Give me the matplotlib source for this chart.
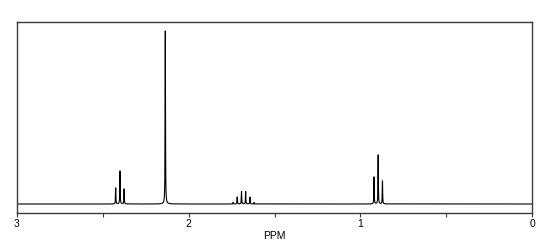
"""1H NMR spectrum figure (300 MHz style stick/lorentzian trace)."""

from __future__ import annotations

import numpy as np
import matplotlib

matplotlib.use("Agg")
import matplotlib.pyplot as plt


# peak list: shift (ppm) and height (arbitrary units)
PEAK_PPM = [
    2.425, 2.400, 2.376,                          # CH2 triplet
    2.136,                                        # CH3 singlet
    1.741, 1.717, 1.692, 1.668, 1.643, 1.619,     # CH2 sextet
    0.920, 0.896, 0.871,                          # CH3 triplet
]
PEAK_HEIGHT = [
    16, 33, 15,
    173,
    1.5, 7, 12.5, 12.5, 7, 1.5,
    27, 49, 23,
]
MAJOR_TICKS = [3, 2, 1, 0]
MINOR_TICKS = [2.5, 1.5, 0.5]
X_LABEL = "PPM"

FRAME = "#3a3a3a"
INK = "#000000"
FONT = ["Liberation Sans", "DejaVu Sans"]


def spectrum(ppm: np.ndarray, hwhm: float = 0.0012) -> np.ndarray:
    y = np.zeros_like(ppm)
    for x0, h in zip(PEAK_PPM, PEAK_HEIGHT):
        y += h * hwhm**2 / ((ppm - x0) ** 2 + hwhm**2)
    return y


def main() -> None:
    plt.rcParams["font.family"] = FONT
    fig = plt.figure(figsize=(5.6, 2.46), dpi=100)
    ax = fig.add_axes([17 / 560, 1 - 213 / 246, 515 / 560, 191 / 246])

    ppm = np.linspace(0, 3, 60001)
    ax.plot(ppm, spectrum(ppm), color=INK, linewidth=0.8)

    ax.set_xlim(3, 0)
    ax.set_ylim(-9, 182)
    ax.set_yticks([])
    ax.set_xticks(MAJOR_TICKS, [str(t) for t in MAJOR_TICKS])
    ax.set_xticks(MINOR_TICKS, minor=True)
    ax.tick_params(axis="x", which="both", direction="out", length=3,
                   width=0.8, color=FRAME, labelsize=7.5, pad=1)
    for sp in ax.spines.values():
        sp.set_color(FRAME)
        sp.set_linewidth(1.0)
    ax.set_xlabel(X_LABEL, fontsize=7.5, labelpad=2)

    fig.savefig("out.png", dpi=100, facecolor="white")
    plt.close(fig)


if __name__ == "__main__":
    main()
